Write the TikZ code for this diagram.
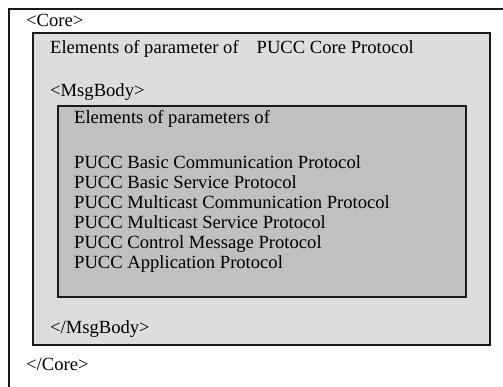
\documentclass[tikz,border=0pt]{standalone}
\usepackage{fontspec}
\setmainfont{Liberation Serif}
\definecolor{bodygray}{HTML}{DDDDDD}
\definecolor{paramgray}{HTML}{C0C0C0}
\definecolor{edge}{HTML}{1A1A1A}
\tikzset{
  frame/.style={draw=edge, line width=1.6pt},
  label/.style={anchor=base west, inner sep=0pt, text=black,
    font=\fontsize{18.6}{20.1}\selectfont},
}
\begin{document}
\begin{tikzpicture}[x=1pt,y=-1pt]
  \fill[white] (0,0) rectangle (503,387);
  \useasboundingbox (0,0) rectangle (503,387);
  % Core container (runs past the page edges)
  \draw[frame] (503,9) -- (9,9) -- (9,387);
  % MsgBody container
  \draw[frame, fill=bodygray] (33,33) rectangle (490,345);
  % parameter block
  \draw[frame, fill=paramgray] (58,106) rectangle (466,297);

  \node[label] (coreopen) at (26,27) {<Core>};
  \node[label] (coreparams) at (50,54) {Elements of parameter of\hspace{18pt}PUCC Core Protocol};
  \node[label] (msgopen) at (50,97) {<MsgBody>};
  \node[label] (paramhead) at (74,124) {Elements of parameters of};
  \node[label] (p1) at (74,168.5) {PUCC Basic Communication Protocol};
  \node[label] (p2) at (74,188.6) {PUCC Basic Service Protocol};
  \node[label] (p3) at (74,208.7) {PUCC Multicast Communication Protocol};
  \node[label] (p4) at (74,228.8) {PUCC Multicast Service Protocol};
  \node[label] (p5) at (74,248.9) {PUCC Control Message Protocol};
  \node[label] (p6) at (74,269) {PUCC Application Protocol};
  \node[label] (msgclose) at (50,333) {</MsgBody>};
  \node[label] (coreclose) at (26,370) {</Core>};
\end{tikzpicture}
\end{document}
